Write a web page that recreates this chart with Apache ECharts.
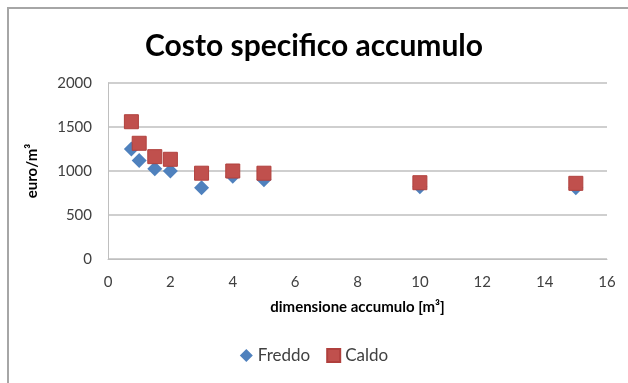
<!DOCTYPE html>
<html>
<head>
<meta charset="utf-8">
<script src="https://cdn.jsdelivr.net/npm/echarts@6/dist/echarts.min.js"></script>
<style>
  html, body { margin: 0; padding: 0; background: #fff; }
  #chart { width: 628px; height: 383px; }
</style>
</head>
<body>
<div id="chart"></div>
<script>
// Storage size (m³) and specific cost (euro/m³)
const sizes = [0.75, 1, 1.5, 2, 3, 4, 5, 10, 15];
const freddo = [1250, 1120, 1025, 1000, 810, 940, 900, 820, 810];
const caldo = [1560, 1315, 1163, 1133, 975, 1000, 975, 867, 860];

const FONT = 'Lato, "Open Sans", sans-serif';
const chart = echarts.init(document.getElementById('chart'));

chart.setOption({
  animation: false,
  backgroundColor: '#fff',
  title: {
    text: 'Costo specifico accumulo',
    left: 'center',
    top: 26,
    textStyle: { fontFamily: FONT, fontSize: 30, fontWeight: 'bold', color: '#000' }
  },
  graphic: [{
    type: 'rect',
    shape: { x: 8, y: 8, width: 700, height: 500 },
    style: { fill: 'none', stroke: '#a6a6a6', lineWidth: 2 }
  }],
  grid: { left: 108, right: 21, top: 83, bottom: 124 },
  legend: {
    bottom: 14,
    left: 'center',
    itemWidth: 13,
    itemHeight: 13,
    itemGap: 16,
    textStyle: { fontFamily: FONT, fontSize: 17, color: '#404040' },
    data: [
      { name: 'Freddo', icon: 'diamond' },
      { name: 'Caldo', icon: 'rect' }
    ]
  },
  xAxis: {
    type: 'value',
    min: 0, max: 16, interval: 2,
    name: 'dimensione accumulo [m³]',
    nameLocation: 'middle',
    nameGap: 41,
    nameTextStyle: { fontFamily: FONT, fontSize: 15, fontWeight: 'bold', color: '#000' },
    axisLine: { show: true, lineStyle: { color: '#bfbfbf', width: 1 } },
    axisTick: { show: false },
    splitLine: { show: false },
    axisLabel: { fontFamily: FONT, fontSize: 15, color: '#404040', margin: 16 }
  },
  yAxis: {
    type: 'value',
    min: 0, max: 2000, interval: 500,
    name: 'euro/m³',
    nameLocation: 'middle',
    nameGap: 68,
    nameTextStyle: { fontFamily: FONT, fontSize: 15, fontWeight: 'bold', color: '#000' },
    axisLine: { show: true, lineStyle: { color: '#bfbfbf', width: 1 } },
    axisTick: { show: false },
    splitLine: { lineStyle: { color: '#bfbfbf', width: 1.5 } },
    axisLabel: { fontFamily: FONT, fontSize: 15, color: '#404040', margin: 16, formatter: v => String(v) }
  },
  series: [
    {
      name: 'Freddo',
      type: 'scatter',
      symbol: 'diamond',
      symbolSize: 15,
      itemStyle: { color: '#4F81BD', opacity: 1 },
      data: sizes.map((s, i) => [s, freddo[i]])
    },
    {
      name: 'Caldo',
      type: 'scatter',
      symbol: 'rect',
      symbolSize: 14,
      itemStyle: { color: '#C0504D', borderColor: '#b0403d', borderWidth: 1, opacity: 1 },
      data: sizes.map((s, i) => [s, caldo[i]])
    }
  ]
});
</script>
</body>
</html>
